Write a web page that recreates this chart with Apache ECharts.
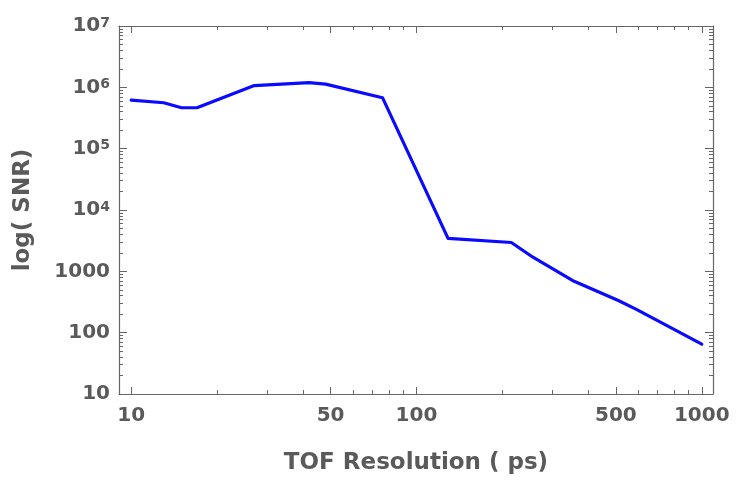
<!DOCTYPE html>
<html><head><meta charset="utf-8">
<script src="https://cdn.jsdelivr.net/npm/echarts@6/dist/echarts.min.js"></script>
<style>html,body{margin:0;padding:0;background:#fff}#c{width:747px;height:483px}</style>
</head><body><div id="c"></div>
<script>
// Data
const resolutionPs = [10, 13, 15, 17, 27, 42, 48, 76, 129, 215, 256, 352, 510, 590, 1000];
const snr = [620000, 560000, 465000, 465000, 1070000, 1190000, 1130000, 678000, 3450, 2950, 1700, 710, 335, 240, 65];

// Tick labels / tick positions
const xLabelValues = [10, 50, 100, 500, 1000];
const xMinorTicks = [20, 30, 40, 60, 70, 80, 90, 200, 300, 400, 600, 700, 800, 900];
const yLabelValues = [10, 100, 1000, 10000, 100000, 1000000, 10000000];
const yMinorMultipliers = [2, 3, 4, 5, 6, 7, 8, 9];
const yDecades = [10, 100, 1000, 10000, 100000, 1000000];
const yMinorTicks = [];
yDecades.forEach(d => yMinorMultipliers.forEach(m => yMinorTicks.push(m * d)));

const FONT = 'DejaVu Sans';
const TXT = '#5a5a5a';
const FRAME = '#666666';
const X_MIN = 9.06, X_MAX = 1095, Y_MIN = 10, Y_MAX = 10000000;

function xAxisDef(position, ticks, len, showLine, showLabel) {
  const a = {
    type: 'log', logBase: 10, min: X_MIN, max: X_MAX, position: position,
    axisLine: { show: showLine, onZero: false, lineStyle: { color: FRAME, width: 1.2 } },
    axisTick: { show: true, inside: true, length: len, customValues: ticks, lineStyle: { color: FRAME, width: 1 } },
    axisLabel: { show: false },
    splitLine: { show: false }, minorTick: { show: false }, minorSplitLine: { show: false }
  };
  if (showLabel) {
    a.axisLabel = {
      show: true, customValues: xLabelValues, margin: 12,
      formatter: v => String(Math.round(v)),
      fontFamily: FONT, fontWeight: 'bold', fontSize: 20, color: TXT
    };
    a.name = 'TOF Resolution ( ps)';
    a.nameLocation = 'middle';
    a.nameGap = 58;
    a.nameTextStyle = { fontFamily: FONT, fontWeight: 'bold', fontSize: 23, color: TXT };
  }
  return a;
}
function yAxisDef(position, ticks, len, showLine, showLabel) {
  const a = {
    type: 'log', logBase: 10, min: Y_MIN, max: Y_MAX, position: position,
    axisLine: { show: showLine, onZero: false, lineStyle: { color: FRAME, width: 1.2 } },
    axisTick: { show: true, inside: true, length: len, customValues: ticks, lineStyle: { color: FRAME, width: 1 } },
    axisLabel: { show: false },
    splitLine: { show: false }, minorTick: { show: false }, minorSplitLine: { show: false }
  };
  if (showLabel) {
    a.axisLabel = {
      show: true, customValues: yLabelValues, margin: 9,
      formatter: v => {
        const e = Math.round(Math.log10(v));
        return v >= 10000 ? '{b|10}{s|' + e + '}' : '{b|' + Math.round(v) + '}';
      },
      fontFamily: FONT, fontWeight: 'bold', fontSize: 20, color: TXT,
      rich: {
        b: { fontFamily: FONT, fontWeight: 'bold', fontSize: 20, color: TXT, lineHeight: 20, verticalAlign: 'bottom' },
        s: { fontFamily: FONT, fontWeight: 'bold', fontSize: 14, color: TXT, lineHeight: 14, verticalAlign: 'top', padding: [0, 0, 11, 0] }
      }
    };
    a.name = 'log( SNR)';
    a.nameLocation = 'middle';
    a.nameGap = 84;
    a.nameRotate = 90;
    a.nameTextStyle = { fontFamily: FONT, fontWeight: 'bold', fontSize: 23, color: TXT };
  }
  return a;
}

const chart = echarts.init(document.getElementById('c'), null, { renderer: 'canvas' });
chart.setOption({
  animation: false,
  backgroundColor: '#ffffff',
  grid: { left: 119, right: 34, top: 26, bottom: 89, containLabel: false },
  xAxis: [
    xAxisDef('bottom', xLabelValues, 7, true, true),
    xAxisDef('bottom', xMinorTicks, 4, false, false),
    xAxisDef('top', xLabelValues, 7, true, false),
    xAxisDef('top', xMinorTicks, 4, false, false)
  ],
  yAxis: [
    yAxisDef('left', yLabelValues, 8, true, true),
    yAxisDef('left', yMinorTicks, 4, false, false),
    yAxisDef('right', yLabelValues, 8, true, false),
    yAxisDef('right', yMinorTicks, 4, false, false)
  ],
  series: [{
    type: 'line', xAxisIndex: 0, yAxisIndex: 0,
    data: resolutionPs.map((x, i) => [x, snr[i]]),
    showSymbol: false, smooth: false,
    lineStyle: { color: '#0a0aff', width: 3.2, join: 'round', cap: 'round' }
  }]
});
</script></body></html>
